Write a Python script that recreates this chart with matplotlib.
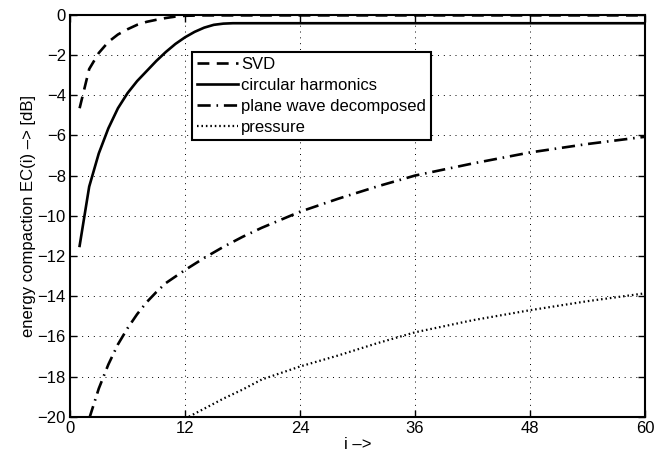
import numpy as np
import matplotlib
matplotlib.use('Agg')
import matplotlib.pyplot as plt

plt.rcParams['font.family'] = ['Liberation Sans', 'DejaVu Sans']
plt.rcParams['font.size'] = 12

# energy compaction curves, values in dB
svd_i = [1, 2, 3, 4, 5, 6, 7, 8, 9, 10, 11, 12, 13, 14, 16, 20, 30, 40, 50, 60]
svd_ec = [-4.65, -2.7, -1.9, -1.35, -0.98, -0.72, -0.5, -0.35, -0.25, -0.16,
          -0.09, -0.05, -0.04, -0.03, -0.03, -0.03, -0.03, -0.03, -0.03, -0.03]

circ_i = [1, 2, 3, 4, 5, 6, 7, 8, 9, 10, 11, 12, 13, 14, 15, 16, 17, 18, 30, 45, 60]
circ_ec = [-11.5, -8.55, -6.9, -5.65, -4.65, -3.9, -3.3, -2.8, -2.3, -1.85,
           -1.45, -1.12, -0.85, -0.64, -0.5, -0.44, -0.42, -0.42, -0.42, -0.42, -0.42]

pw_i = [2, 3, 4, 5, 6, 7, 8, 9, 10, 12, 14, 16, 18, 20, 24, 28, 32, 36, 42, 48, 54, 60]
pw_ec = [-20.1, -18.6, -17.4, -16.4, -15.6, -14.9, -14.3, -13.8, -13.35, -12.7,
         -12.1, -11.55, -11.05, -10.6, -9.8, -9.15, -8.55, -8.0, -7.4, -6.85, -6.43, -6.07]

pr_i = [12, 14, 16, 18, 20, 24, 28, 32, 36, 42, 48, 54, 60]
pr_ec = [-20.1, -19.6, -19.1, -18.65, -18.15, -17.5, -16.95, -16.35, -15.8,
         -15.2, -14.7, -14.25, -13.86]

fig = plt.figure(figsize=(6.65, 4.62), dpi=100)
ax = fig.add_axes([0.1053, 0.098, 0.8646, 0.870])

lw = 1.9
ax.plot(svd_i, svd_ec, color='black', lw=lw, linestyle=(0, (4.5, 2.8)), label='SVD')
ax.plot(circ_i, circ_ec, color='black', lw=lw, linestyle='-', label='circular harmonics')
ax.plot(pw_i, pw_ec, color='black', lw=lw, linestyle=(0, (5, 2.2, 0.6, 2.2)),
        label='plane wave decomposed')
ax.plot(pr_i, pr_ec, color='black', lw=1.6, linestyle=(0, (0.7, 1.3)), label='pressure')

ax.set_xlim(0, 60)
ax.set_ylim(-20, 0)
ax.set_xticks(np.arange(0, 61, 12))
ax.set_yticks(np.arange(-20, 1, 2))

ax.grid(True, color='black', linestyle=(0, (1, 5)), linewidth=0.7)
ax.tick_params(direction='in', length=5, width=1, top=True, right=True, pad=3)
for s in ax.spines.values():
    s.set_linewidth(1.5)

ax.set_xlabel('i –>', labelpad=1)
ax.set_ylabel('energy compaction EC(i) –> [dB]', labelpad=1)

leg = ax.legend(loc='upper left', bbox_to_anchor=(0.2117, 0.908), fancybox=False,
                framealpha=1, edgecolor='black', handlelength=2.45, handletextpad=0.2,
                labelspacing=0.36, borderpad=0.32, borderaxespad=0)
leg.get_frame().set_linewidth(1.5)

fig.savefig('out.png', dpi=100)
